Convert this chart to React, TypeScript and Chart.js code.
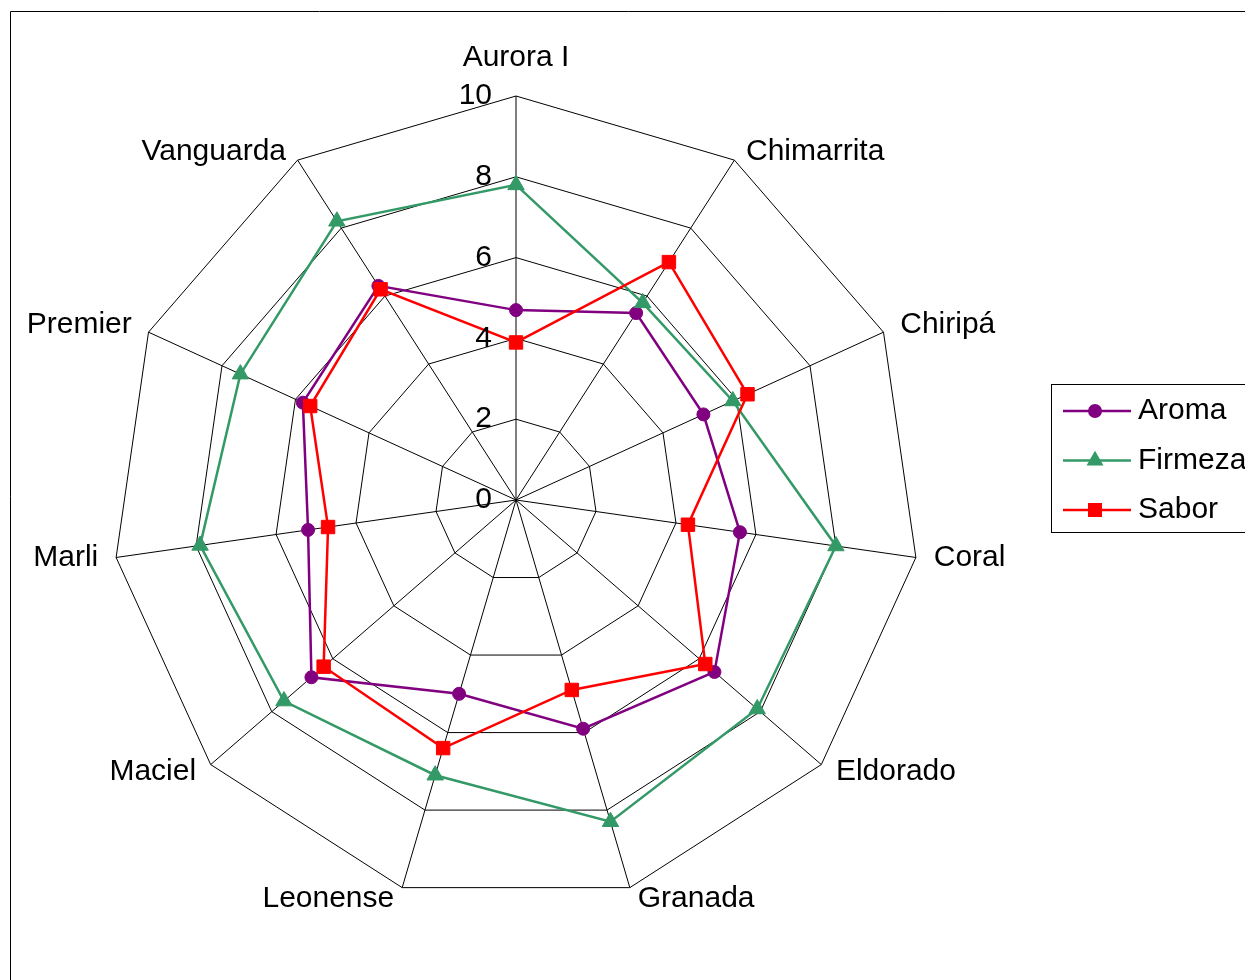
import React, { useEffect, useRef } from 'react';
import { Chart, registerables } from 'chart.js';

Chart.register(...registerables);

// Sensory scores (0–10) per strawberry cultivar
const CULTIVARS = ['Aurora I', 'Chimarrita', 'Chiripá', 'Coral', 'Eldorado', 'Granada', 'Leonense', 'Maciel', 'Marli', 'Premier', 'Vanguarda'];
const AROMA = [4.7, 5.5, 5.1, 5.6, 6.5, 5.9, 5.0, 6.7, 5.2, 5.8, 6.3];
const FIRMEZA = [7.8, 5.8, 5.9, 8.0, 7.9, 8.3, 7.1, 7.6, 7.9, 7.5, 8.2];
const SABOR = [3.9, 7.0, 6.3, 4.3, 6.2, 4.9, 6.4, 6.3, 4.7, 5.6, 6.2];
const TICK_VALUES = [0, 2, 4, 6, 8, 10];

const FONT = '"Liberation Sans", Arial, sans-serif';

function drawMarker(ctx: CanvasRenderingContext2D, style: string, x: number, y: number, r: number, color: string) {
  ctx.fillStyle = color;
  ctx.beginPath();
  if (style === 'circle') {
    ctx.arc(x, y, r, 0, Math.PI * 2);
  } else if (style === 'triangle') {
    const R = r * 1.4;
    ctx.moveTo(x, y - R);
    ctx.lineTo(x + R * Math.sin((2 * Math.PI) / 3), y - R * Math.cos((2 * Math.PI) / 3));
    ctx.lineTo(x + R * Math.sin((4 * Math.PI) / 3), y - R * Math.cos((4 * Math.PI) / 3));
    ctx.closePath();
  } else {
    ctx.rect(x - r, y - r, 2 * r, 2 * r);
  }
  ctx.fill();
}

const decorations = {
  id: 'decorations',
  afterDraw(chart: any) {
    const ctx: CanvasRenderingContext2D = chart.ctx;
    const scale = chart.scales.r;
    ctx.save();

    // outer frame
    ctx.strokeStyle = '#000';
    ctx.lineWidth = 1;
    ctx.beginPath();
    ctx.moveTo(10.5, 990);
    ctx.lineTo(10.5, 11.5);
    ctx.lineTo(1260, 11.5);
    ctx.stroke();

    // radial tick labels, left of the first spoke
    ctx.fillStyle = '#000';
    ctx.font = `30px ${FONT}`;
    ctx.textAlign = 'right';
    ctx.textBaseline = 'middle';
    TICK_VALUES.forEach((v) => {
      const y = scale.yCenter - scale.getDistanceFromCenterForValue(v);
      ctx.fillText(String(v), scale.xCenter - 24, y);
    });

    // category labels around the web
    const n = CULTIVARS.length;
    CULTIVARS.forEach((name, i) => {
      const p = scale.getPointPosition(i, scale.drawingArea + 14);
      if (i === 0) {
        ctx.textAlign = 'center';
        ctx.textBaseline = 'alphabetic';
        ctx.fillText(name, p.x, p.y - 16);
      } else {
        const angle = (i * 2 * Math.PI) / n;
        const right = i <= (n - 1) / 2;
        const dy = Math.cos(angle) > 0.6 ? 3 : -2;
        ctx.textAlign = right ? 'left' : 'right';
        ctx.textBaseline = 'middle';
        ctx.fillText(name, p.x + (right ? 4 : -4), p.y + dy);
      }
    });

    // legend box
    const boxX = 1051.5;
    const boxY = 384.5;
    ctx.strokeStyle = '#000';
    ctx.lineWidth = 1;
    ctx.strokeRect(boxX, boxY, 260, 148);
    chart.data.datasets.forEach((ds: any, i: number) => {
      const y = 411 + i * 49.5;
      ctx.strokeStyle = ds.borderColor;
      ctx.lineWidth = 2.5;
      ctx.beginPath();
      ctx.moveTo(1063, y);
      ctx.lineTo(1131, y);
      ctx.stroke();
      drawMarker(ctx, ds.pointStyle, 1095, y, 7, ds.borderColor);
      ctx.fillStyle = '#000';
      ctx.font = `30px ${FONT}`;
      ctx.textAlign = 'left';
      ctx.textBaseline = 'middle';
      ctx.fillText(ds.label, 1138, y);
    });

    ctx.restore();
  },
};

export default function App() {
  const canvasRef = useRef<HTMLCanvasElement | null>(null);

  useEffect(() => {
    if (!canvasRef.current) return;
    const series = [
      { label: 'Aroma', data: AROMA, color: '#800080', style: 'circle', radius: 6.5, order: 2 },
      { label: 'Firmeza', data: FIRMEZA, color: '#339966', style: 'triangle', radius: 9.5, order: 1 },
      { label: 'Sabor', data: SABOR, color: '#FF0000', style: 'rect', radius: 9.5, order: 0 },
    ];
    const chart = new Chart(canvasRef.current, {
      type: 'radar',
      data: {
        labels: CULTIVARS,
        datasets: series.map((s) => ({
          label: s.label,
          data: s.data,
          borderColor: s.color,
          backgroundColor: s.color,
          pointBackgroundColor: s.color,
          pointBorderColor: s.color,
          pointBorderWidth: 1,
          pointStyle: s.style,
          pointRadius: s.radius,
          borderWidth: 2.5,
          fill: false,
          tension: 0,
          order: s.order,
        })),
      },
      options: {
        animation: false,
        responsive: true,
        maintainAspectRatio: false,
        devicePixelRatio: 1,
        layout: { padding: { left: 112, right: 325, top: 96, bottom: 76 } },
        plugins: {
          legend: { display: false },
          tooltip: { enabled: false },
        },
        scales: {
          r: {
            min: 0,
            max: 10,
            startAngle: 0,
            ticks: { stepSize: 2, display: false },
            grid: { color: '#000', lineWidth: 1 },
            angleLines: { color: '#000', lineWidth: 1 },
            pointLabels: { display: false },
          },
        },
      },
      plugins: [decorations],
    } as any);
    return () => chart.destroy();
  }, []);

  return (
    <div style={{ position: 'absolute', left: 0, top: 0, width: 1245, height: 980, background: '#fff' }}>
      <canvas ref={canvasRef} />
    </div>
  );
}
